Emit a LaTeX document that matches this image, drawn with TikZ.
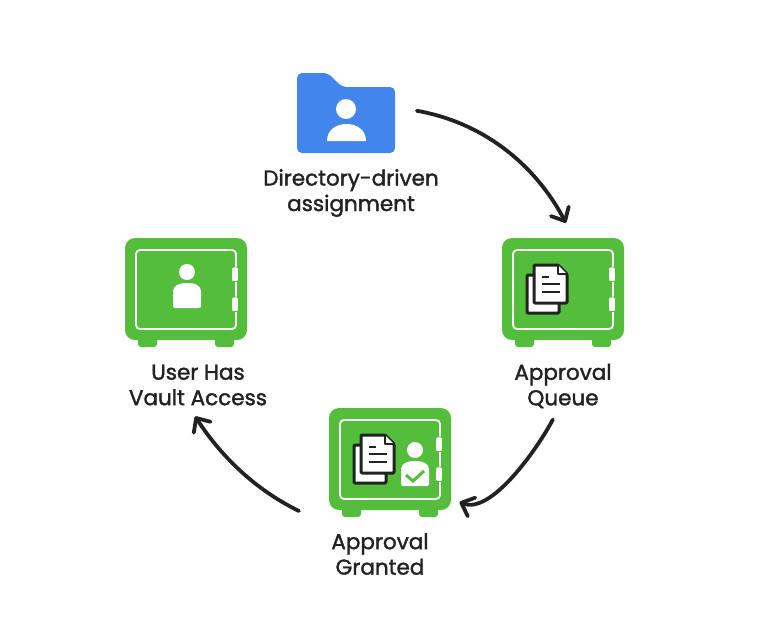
\documentclass[tikz,border=0pt]{standalone}
\usepackage{fontspec}
\setmainfont[FakeBold=1.6]{Poppins}
\usetikzlibrary{arrows.meta}
\definecolor{safegreen}{RGB}{84,189,59}
\definecolor{folderblue}{RGB}{66,133,236}
\definecolor{inkdark}{RGB}{34,34,34}
\tikzset{
  safebody/.style={fill=safegreen, rounded corners=10pt, minimum width=122pt, minimum height=102pt, inner sep=0pt},
  folderbox/.style={minimum width=98pt, minimum height=80pt, inner sep=0pt},
  caption/.style={align=center, text=inkdark, font=\fontsize{21.5}{25.5}\selectfont},
  flow/.style={->, inkdark, line width=3.8pt},
  sheet/.style={fill=white, draw=inkdark, line width=3pt, line join=round},
  pics/safedoor/.style={code={
    % feet, door line and hinges
    \fill[safegreen, rounded corners=3pt] (-48,40) rectangle (-29,58);
    \fill[safegreen, rounded corners=3pt] (29,40) rectangle (48,58);
    \draw[white, line width=1.8pt, rounded corners=4pt] (-50,-39) rectangle (50,40);
    \foreach \y in {-22, 8}
      \draw[safegreen, fill=white, line width=0.8pt, rounded corners=2pt] (45.5,\y) rectangle (52.5,\y+14.5);
  }},
  pics/docstack/.style={code={
    \draw[sheet, rounded corners=1pt] (-36,-14) rectangle (-4,24);
    \draw[sheet, rounded corners=1pt] (-29,-24) -- (-5,-24) -- (4,-15) -- (4,14) -- (-29,14) -- cycle;
    \draw[inkdark, fill=white, line width=1.6pt, line join=round] (-5,-24) -- (-5,-15) -- (4,-15);
    \draw[inkdark, line width=2.4pt] (-21,-12) -- (-14,-12);
    \foreach \y in {-5, 3}
      \draw[inkdark, line width=2.4pt] (-21,\y) -- (-3,\y);
  }},
  pics/userfig/.style={code={
    \fill[white] (0,-11) circle (8);
    \fill[white, rounded corners=2pt] (-14,25) -- (-14,10) .. controls (-14,3) and (-8,0) .. (0,0) .. controls (8,0) and (14,3) .. (14,10) -- (14,25) -- cycle;
  }}
}
\begin{document}
\begin{tikzpicture}[x=1pt, y=-1pt, >={Straight Barb[length=11pt, width=20pt, line width=3.8pt, round]}]
  \useasboundingbox (0,0) rectangle (771,630);

  % folder at the top
  \node[folderbox] (folder) at (346,113) {};
  \fill[folderblue, rounded corners=5pt] (297,153) -- (297,73) -- (328,73) -- (342,87) -- (395,87) -- (395,153) -- cycle;
  \fill[white] (346,109) circle (10);
  \fill[white] (327,141) .. controls (327,130) and (336,124) .. (346.5,124) .. controls (357,124) and (366,130) .. (366,141) -- cycle;
  \node[caption] (directory) at (351,193) {Directory-driven\\assignment};

  % the three safes
  \node[safebody] (queue) at (563,289) {};
  \pic at (queue.center) {safedoor};
  \pic at (queue.center) {docstack};
  \node[caption] (queuetext) at (563,386) {Approval\\Queue};

  \node[safebody] (granted) at (390,459) {};
  \pic at (granted.center) {safedoor};
  \pic at (granted.center) {docstack};
  \pic at ([shift={(25,2)}]granted.center) {userfig};
  \draw[safegreen, line width=3pt] (406,475) -- (413,481) -- (424,471);
  \node[caption] (grantedtext) at (380,554) {Approval\\Granted};

  \node[safebody] (access) at (186,289) {};
  \pic at (access.center) {safedoor};
  \pic at ([shift={(1,-6)}]access.center) {userfig};
  \node[caption] (accesstext) at (198,385) {User Has\\Vault Access};

  % arrows between the steps
  \coordinate (grantedout) at (299,511);
  \draw[flow, line cap=round, shorten <=22pt, shorten >=17pt] (folder.7) to[out=-10, in=118] (queue.78);
  \draw[flow, line cap=round, shorten <=9pt, shorten >=9pt] (queuetext.-103) to[out=-118, in=-22, looseness=0.8] (granted.-33);
  \draw[flow, line cap=round, shorten >=9pt] (grantedout) to[out=154, in=-57, looseness=0.9] (accesstext.-108);
\end{tikzpicture}
\end{document}
